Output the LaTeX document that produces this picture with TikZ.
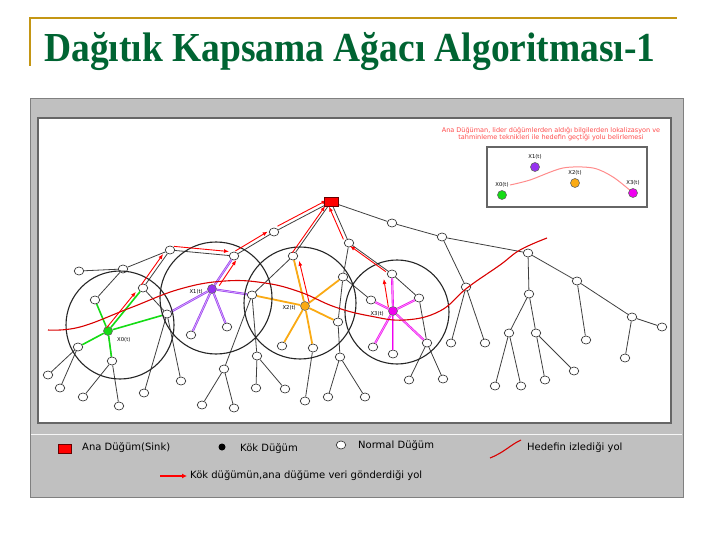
\documentclass[tikz,border=0pt]{standalone}
\usepackage{fontspec}
\setmainfont{Liberation Serif}
\setsansfont{DejaVu Sans}
\usetikzlibrary{shapes.geometric,arrows.meta}
\definecolor{titlegreen}{RGB}{0,100,50}
\definecolor{rulegold}{RGB}{196,150,20}
\definecolor{panelgrey}{RGB}{192,192,192}
\definecolor{xzero}{RGB}{20,220,20}
\definecolor{xone}{RGB}{150,50,240}
\definecolor{xtwo}{RGB}{250,170,20}
\definecolor{xthree}{RGB}{240,0,240}
\tikzset{
  plainnode/.style  = {shape=ellipse, draw=black!75, fill=white, line width=0.7pt,
                       minimum width=9.5pt, minimum height=8pt, inner sep=0pt},
  sinknode/.style   = {shape=rectangle, draw=red!40!black, fill=red,
                       minimum width=14pt, minimum height=9pt, inner sep=0pt},
  rootnode/.style   = {shape=circle, draw=black!60, line width=0.6pt,
                       minimum size=9pt, inner sep=0pt},
  treelink/.style   = {draw=black!75, line width=0.8pt},
  rootlink/.style   = {draw=#1, line width=0.6pt, double=#1!45, double distance=0.9pt},
  datapath/.style   = {draw=red, line width=0.9pt, shorten <=4pt, shorten >=5pt,
                       -{Latex[length=5pt,width=4pt]}},
  rangering/.style  = {draw=black!85, line width=1.1pt},
  targetpath/.style = {draw=red!85!black, line width=1.1pt},
  nodelabel/.style  = {font=\sffamily\fontsize{5.3}{6}\selectfont, inner sep=1pt},
  legendtext/.style = {font=\sffamily\fontsize{10}{12}\selectfont, anchor=west, inner sep=0pt},
}

\begin{document}
\begin{tikzpicture}
  [
    x = 1pt,
    y = -1pt,
  ]
  \useasboundingbox (0,0) rectangle (720,540);
  \fill[white] (0,0) rectangle (720,540);
  \draw[rulegold, line width=2.5pt] (30,66) -- (30,18) -- (677,18);
  \node[anchor=base west, inner sep=0pt, text=titlegreen,
        font=\bfseries\fontsize{37.5}{44}\selectfont] (title) at (44,62)
    {\scalebox{1}[1.1]{Dağıtık Kapsama Ağacı Algoritması-1}};

  \fill[panelgrey] (30,99) rectangle (683,497);
  \draw[black!50, line width=1pt] (30,99) rectangle (683,497);
  \filldraw[fill=white, draw=black!60, line width=1.2pt] (38,118) rectangle (671,423);
  \draw[white!85!panelgrey, line width=0.8pt] (31,434) -- (682,434);

  \node[font=\sffamily\fontsize{6.5}{7.5}\selectfont, text=red!70, align=center] (note) at (551,134)
    {Ana Düğüman, lider düğümlerden aldığı bilgilerden lokalizasyon ve\\
     tahminleme teknikleri ile hedefin geçtiği yolu belirlemesi};
  \draw[black!60, line width=1.5pt, fill=white] (487,147) rectangle (647,207);
  \draw[red!45, line width=1pt] plot[smooth] coordinates
    {(510,185) (530,180) (563,168) (593,168) (613,177) (632,192)};
  \node[rootnode, fill=xzero]  (ix0) at (502,195) {};
  \node[rootnode, fill=xone]   (ix1) at (535,167) {};
  \node[rootnode, fill=xtwo]   (ix2) at (575,183) {};
  \node[rootnode, fill=xthree] (ix3) at (633,193) {};
  \node[nodelabel, above=2pt] at (ix0.north) {X0(t)};
  \node[nodelabel, above=2pt] at (ix1.north) {X1(t)};
  \node[nodelabel, above=2pt] at (ix2.north) {X2(t)};
  \node[nodelabel, above=2pt] at (ix3.north) {X3(t)};

  \node[sinknode] (sink) at (331,202) {};
  \foreach \n/\x/\y in {a1/274/232, a2/170/250, a3/123/269, a4/79/271, a5/234/256,
      a6/143/288, b1/293/256, c1/349/243, c2/343/277, c3/338/322, d1/392/274,
      d2/392/223, d3/442/237, d4/528/253, e1/466/287, e2/451/343, e3/485/343,
      f1/577/281, f2/586/340, f3/632/317, f4/662/327, f5/625/358, g1/529/294,
      g2/509/333, g3/536/333, g4/495/386, g5/521/386, g6/545/380, g7/574/371,
      h1/95/300, h2/167/314, h3/78/347, h4/112/361, h5/48/375, h6/60/388,
      h7/83/397, h8/119/406, h9/144/393, h10/181/381, i1/252/295, i2/191/335,
      i3/227/327, i4/224/369, i5/202/405, i6/234/408, i7/257/356, i8/256/388,
      i9/285/389, j1/282/346, j2/313/348, j3/305/401, j4/340/357, j5/328/397,
      j6/365/397, k1/419/298, k2/371/300, k3/373/347, k4/393/354, k5/427/343,
      k6/409/380, k7/443/379}
    \node[plainnode] (\n) at (\x,\y) {};
  \node[rootnode, fill=xzero]  (x0) at (108,331) {};
  \node[rootnode, fill=xone]   (x1) at (212,289) {};
  \node[rootnode, fill=xtwo]   (x2) at (305,306) {};
  \node[rootnode, fill=xthree] (x3) at (393,311) {};
  \node[nodelabel, anchor=west] at (116,340) {X0(t)};
  \node[nodelabel, anchor=east] at (204,292) {X1(t)};
  \node[nodelabel, anchor=east] at (297,308) {X2(t)};
  \node[nodelabel, anchor=east] at (385,314) {X3(t)};

  \foreach \a/\b in {sink/a1, a1/a5, a5/a2, a2/a3, a3/a4, a3/h1, a2/a6, a6/h2,
      h2/h9, h2/h10, h3/h5, h3/h6, x0/h4, h4/h7, h4/h8, i1/i4, i4/i5, i4/i6,
      i1/i7, i7/i8, i7/i9, b1/i1, sink/b1, sink/c1, c1/c2, c2/c3, c3/j4, j4/j5,
      j4/j6, j2/j3, c2/k2, c1/d1, d1/k1, k1/k5, k5/k6, k5/k7, sink/d2, d2/d3,
      d3/d4, d4/f1, f1/f2, f1/f3, f3/f4, f3/f5, d4/g1, g1/g2, g1/g3, g2/g4,
      g2/g5, g3/g6, g3/g7, d3/e1, e1/e2, e1/e3, x2/b1}
    \draw[treelink] (\a) -- (\b);
  \foreach \b in {a6, h1, h2, h3, h4}
    \draw[xzero, line width=1.6pt] (x0) -- (\b);
  \foreach \b in {a5, i1, i2, i3, h2}
    \draw[rootlink=xone] (x1) -- (\b);
  \foreach \b in {b1, c2, c3, j1, j2, i1}
    \draw[xtwo, line width=1.8pt] (x2) -- (\b);
  \foreach \b in {d1, k1, k2, k3, k4, k5}
    \draw[rootlink=xthree] (x3) -- (\b);

  \foreach \r/\x/\y in {54/120/325, 56/216/298, 56/300/303, 52/397/312}
    \draw[rangering] (\x,\y) circle[radius=\r pt];

  \draw[targetpath] plot[smooth, tension=0.7] coordinates
    {(48,330) (80,327) (130,308) (180,289) (225,281) (265,283) (300,292) (335,307)
     (370,316) (405,320) (440,311) (467,288) (500,265) (520,250) (547,238)};

  \draw[datapath] ([xshift=-4pt]x0.center) -- ([xshift=-4pt]a6.center);
  \draw[datapath] ([xshift=-4pt]a6.center) -- ([xshift=-4pt]a2.center);
  \draw[datapath] ([yshift=4pt]a2.center) -- ([yshift=4pt]a5.center);
  \draw[datapath] ([shift={(-2pt,3pt)}]a5.center) -- ([shift={(-2pt,3pt)}]a1.center);
  \draw[datapath] ([yshift=4pt]a1.center) -- ([yshift=4pt]sink.center);
  \draw[datapath] ([xshift=5pt]x1.center) -- ([xshift=5pt]a5.center);
  \draw[datapath] ([xshift=5pt]x2.center) -- ([xshift=5pt]b1.center);
  \draw[datapath] ([xshift=-3pt]b1.center) -- ([xshift=-3pt]sink.center);
  \draw[datapath] ([xshift=-4pt]x3.center) -- ([xshift=-9pt]d1.center);
  \draw[datapath] ([xshift=-3pt]d1.center) -- ([xshift=-3pt]c1.center);
  \draw[datapath] ([xshift=-4pt]c1.center) -- ([xshift=-4pt]sink.center);

  \node[sinknode] at (sink) {};

  \node[sinknode, minimum width=13pt] (legsink) at (65,449) {};
  \node[legendtext] (legsinktext) at (82,448) {Ana Düğüm(Sink)};
  \node[circle, fill=black, minimum size=7pt, inner sep=0pt] (legroot) at (222,447) {};
  \node[legendtext] (legroottext) at (240,449) {Kök Düğüm};
  \node[plainnode] (legnormal) at (341,445) {};
  \node[legendtext] (legnormaltext) at (358,446) {Normal Düğüm};
  \draw[targetpath] (490,458) .. controls (505,452) and (510,445) .. (521,440);
  \node[legendtext] (legtracktext) at (527,448) {Hedefin izlediği yol};
  \coordinate (legarrow) at (160,476);
  \node[legendtext] (legdatatext) at (190,476) {Kök düğümün,ana düğüme veri gönderdiği yol};
  \draw[red, line width=1.4pt, -{Latex[length=5pt,width=5pt]}] (legarrow) -- ([xshift=-3pt]legdatatext.west);
\end{tikzpicture}
\end{document}
